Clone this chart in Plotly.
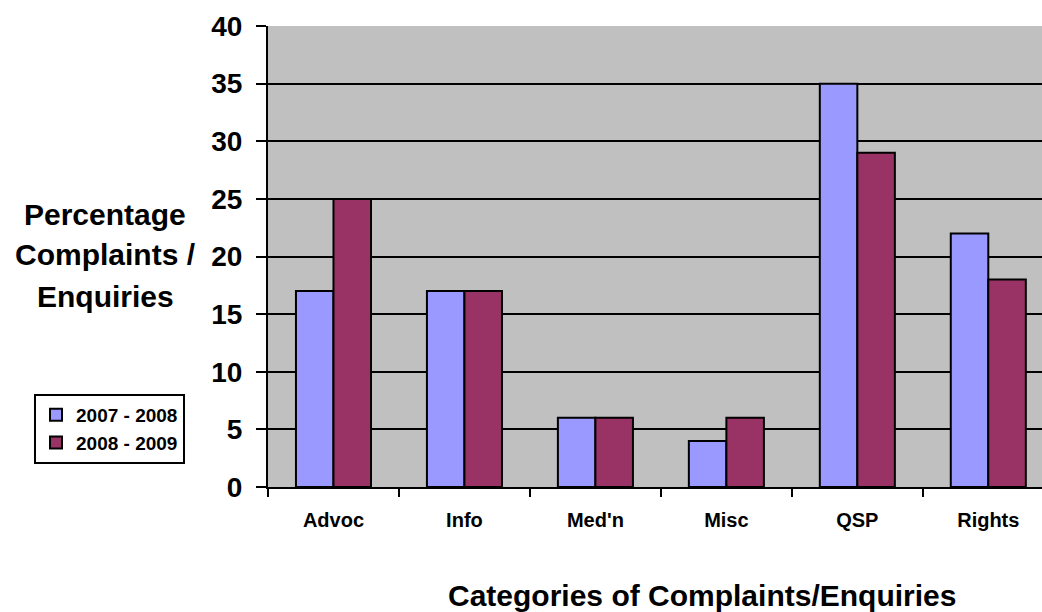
import plotly.graph_objects as go

categories = ["Advoc", "Info", "Med'n", "Misc", "QSP", "Rights"]
series_names = ["2007 - 2008", "2008 - 2009"]
values_2007_08 = [17, 17, 6, 4, 35, 22]
values_2008_09 = [25, 17, 6, 6, 29, 18]
y_ticks = [0, 5, 10, 15, 20, 25, 30, 35, 40]
y_title_lines = ["Percentage", "Complaints /", "Enquiries"]

FONT = "Liberation Sans, Arial, sans-serif"

# plot area spans 268..1042 px horizontally and 26..487 px vertically
PLOT_L, PLOT_R, PLOT_T, PLOT_B = 268, 1042, 26, 487


def px_x(px):
    return (px - PLOT_L) / (PLOT_R - PLOT_L)


def px_y(py):
    return (PLOT_B - py) / (PLOT_B - PLOT_T)


fig = go.Figure()
fig.add_trace(go.Bar(
    x=categories, y=values_2007_08, name=series_names[0],
    marker=dict(color="#9999FF", line=dict(color="black", width=2)),
))
fig.add_trace(go.Bar(
    x=categories, y=values_2008_09, name=series_names[1],
    marker=dict(color="#993366", line=dict(color="black", width=2)),
))

annotations = []
for i, line in enumerate(y_title_lines):
    annotations.append(dict(
        text=line, xref="paper", yref="paper",
        x=px_x(105), y=px_y(214 + 41 * i),
        xanchor="center", yanchor="middle", showarrow=False,
        font=dict(family=FONT, size=30, color="black", weight="bold"),
    ))
annotations.append(dict(
    text="Categories of Complaints/Enquiries",
    xref="paper", yref="paper", x=px_x(702), y=px_y(595),
    xanchor="center", yanchor="middle", showarrow=False,
    font=dict(family=FONT, size=30, color="black", weight="bold"),
))

fig.update_layout(
    width=1042, height=612,
    margin=dict(l=PLOT_L, r=1042 - PLOT_R, t=PLOT_T, b=612 - PLOT_B),
    paper_bgcolor="white",
    plot_bgcolor="#C0C0C0",
    barmode="group",
    bargap=0.427,
    bargroupgap=0,
    font=dict(family=FONT, color="black"),
    showlegend=True,
    legend=dict(
        x=px_x(34), y=px_y(394), xanchor="left", yanchor="top",
        bgcolor="white", bordercolor="black", borderwidth=2,
        font=dict(family=FONT, size=19, color="black", weight="bold"),
        itemsizing="constant",
        tracegroupgap=2,
        itemwidth=30,
    ),
    xaxis=dict(
        range=[-0.5, 5.41],
        showgrid=False,
        showline=True, linecolor="black", linewidth=2,
        ticks="outside", tickson="boundaries", ticklen=8, tickwidth=2, tickcolor="black",
        tickfont=dict(family=FONT, size=20, color="black", weight="bold"),
        ticklabelstandoff=14,
    ),
    yaxis=dict(
        range=[0, 40],
        tickvals=y_ticks,
        showgrid=True, gridcolor="black", gridwidth=1.5,
        showline=True, linecolor="black", linewidth=2,
        ticks="outside", ticklen=10, tickwidth=2, tickcolor="black",
        tickfont=dict(family=FONT, size=28, color="black", weight="bold"),
        ticklabelstandoff=8,
        zeroline=False,
    ),
    annotations=annotations,
)

fig.write_html("out.html")
